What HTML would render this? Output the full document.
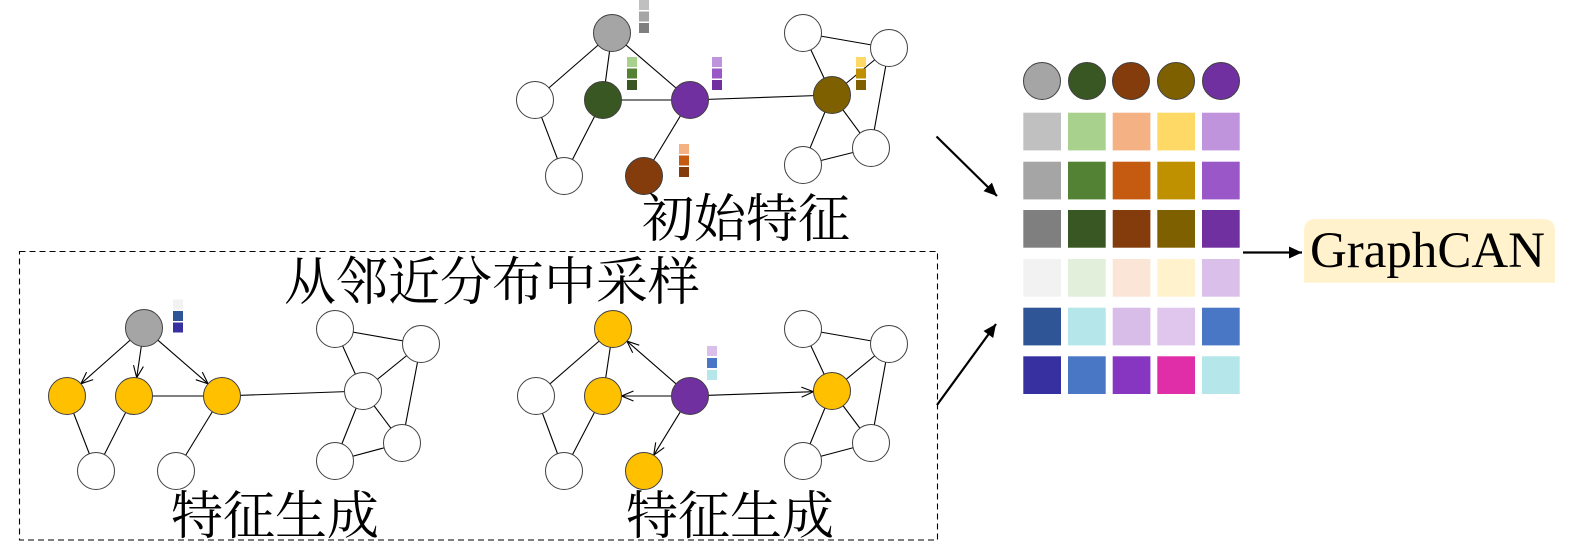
<!DOCTYPE html>
<html><head><meta charset="utf-8"><style>
html,body{margin:0;padding:0;background:#fff;}
svg{display:block;}
.cj{font-family:"Liberation Serif","Noto Serif CJK SC","Noto Sans CJK SC",serif;font-size:52px;fill:#000;}
</style></head><body>
<svg width="1575" height="546" viewBox="0 0 1575 546" xmlns="http://www.w3.org/2000/svg">
<defs>
<marker id="v" markerUnits="userSpaceOnUse" markerWidth="16" markerHeight="14" viewBox="-14 -7 16 14" refX="0" refY="0" orient="auto">
<path d="M-12,-5 L0,0 L-12,5" fill="none" stroke="#000" stroke-width="1.1"/>
</marker>
<marker id="f" markerUnits="userSpaceOnUse" markerWidth="16" markerHeight="14" viewBox="-14 -7 16 14" refX="0" refY="0" orient="auto">
<path d="M-13,-6 L0,0 L-13,6 Z" fill="#000"/>
</marker>
</defs>

<!-- ===== Top graph ===== -->
<g stroke="#000" stroke-width="1.1">
<line x1="612" y1="33" x2="535" y2="100"/>
<line x1="612" y1="33" x2="603" y2="100"/>
<line x1="612" y1="33" x2="690" y2="100"/>
<line x1="535" y1="100" x2="564" y2="176"/>
<line x1="603" y1="100" x2="564" y2="176"/>
<line x1="603" y1="100" x2="690" y2="100"/>
<line x1="690" y1="100" x2="644" y2="176"/>
<line x1="690" y1="100" x2="832" y2="95"/>
<line x1="832" y1="95" x2="803" y2="33"/>
<line x1="832" y1="95" x2="889" y2="48"/>
<line x1="803" y1="33" x2="889" y2="48"/>
<line x1="889" y1="48" x2="871" y2="148"/>
<line x1="832" y1="95" x2="803" y2="165"/>
<line x1="832" y1="95" x2="871" y2="148"/>
<line x1="803" y1="165" x2="871" y2="148"/>
</g>
<g stroke="#404040" stroke-width="1">
<circle cx="612" cy="33" r="18.5" fill="#a5a5a5"/>
<circle cx="535" cy="100" r="18.5" fill="#fff"/>
<circle cx="603" cy="100" r="18.5" fill="#385723"/>
<circle cx="690" cy="100" r="18.5" fill="#7030a0"/>
<circle cx="644" cy="176" r="18.5" fill="#843c0c"/>
<circle cx="564" cy="176" r="18.5" fill="#fff"/>
<circle cx="832" cy="95" r="18.5" fill="#7f6000"/>
<circle cx="803" cy="33" r="18.5" fill="#fff"/>
<circle cx="889" cy="48" r="18.5" fill="#fff"/>
<circle cx="803" cy="165" r="18.5" fill="#fff"/>
<circle cx="871" cy="148" r="18.5" fill="#fff"/>
</g>
<g>
<rect x="639" y="0" width="10" height="10" fill="#c0c0c0"/>
<rect x="639" y="11.5" width="10" height="10" fill="#a5a5a5"/>
<rect x="639" y="23" width="10" height="10" fill="#7f7f7f"/>
<rect x="627" y="57" width="10" height="10" fill="#a9d18e"/>
<rect x="627" y="68.5" width="10" height="10" fill="#548235"/>
<rect x="627" y="80" width="10" height="10" fill="#385723"/>
<rect x="712" y="57" width="10" height="10" fill="#bf94dc"/>
<rect x="712" y="68.5" width="10" height="10" fill="#9a57c8"/>
<rect x="712" y="80" width="10" height="10" fill="#7030a0"/>
<rect x="679" y="144" width="10" height="10" fill="#f4b183"/>
<rect x="679" y="155.5" width="10" height="10" fill="#c55a11"/>
<rect x="679" y="167" width="10" height="10" fill="#843c0c"/>
<rect x="856" y="57" width="10" height="10" fill="#ffd966"/>
<rect x="856" y="68.5" width="10" height="10" fill="#bf9000"/>
<rect x="856" y="80" width="10" height="10" fill="#7f6000"/>
</g>
<text class="cj" x="746" y="237" text-anchor="middle">初始特征</text>

<!-- ===== Dashed box ===== -->
<rect x="19.5" y="251.5" width="918" height="288.5" fill="none" stroke="#000" stroke-width="1.1" stroke-dasharray="6,4"/>
<text class="cj" x="492" y="300" text-anchor="middle">从邻近分布中采样</text>

<!-- ===== Bottom-left graph ===== -->
<g stroke="#000" stroke-width="1.1">
<line x1="67" y1="396" x2="96" y2="471"/>
<line x1="134" y1="396" x2="96" y2="471"/>
<line x1="134" y1="396" x2="222" y2="396"/>
<line x1="222" y1="396" x2="176" y2="471"/>
<line x1="222" y1="396" x2="363" y2="391"/>
<line x1="335" y1="329" x2="421" y2="344"/>
<line x1="335" y1="329" x2="363" y2="391"/>
<line x1="421" y1="344" x2="363" y2="391"/>
<line x1="421" y1="344" x2="402" y2="443"/>
<line x1="363" y1="391" x2="335" y2="461"/>
<line x1="363" y1="391" x2="402" y2="443"/>
<line x1="335" y1="461" x2="402" y2="443"/>
<line x1="130.1" y1="340.2" x2="80.9" y2="383.8" marker-end="url(#v)"/>
<line x1="141.3" y1="346.3" x2="136.7" y2="377.7" marker-end="url(#v)"/>
<line x1="157.9" y1="340.2" x2="208.1" y2="383.8" marker-end="url(#v)"/>
</g>
<g stroke="#404040" stroke-width="1">
<circle cx="144" cy="328" r="18.5" fill="#a5a5a5"/>
<circle cx="67" cy="396" r="18.5" fill="#ffc000"/>
<circle cx="134" cy="396" r="18.5" fill="#ffc000"/>
<circle cx="222" cy="396" r="18.5" fill="#ffc000"/>
<circle cx="96" cy="471" r="18.5" fill="#fff"/>
<circle cx="176" cy="471" r="18.5" fill="#fff"/>
<circle cx="335" cy="329" r="18.5" fill="#fff"/>
<circle cx="421" cy="344" r="18.5" fill="#fff"/>
<circle cx="363" cy="391" r="18.5" fill="#fff"/>
<circle cx="335" cy="461" r="18.5" fill="#fff"/>
<circle cx="402" cy="443" r="18.5" fill="#fff"/>
</g>
<rect x="173" y="299.5" width="10" height="10" fill="#f2f2f2"/>
<rect x="173" y="311" width="10" height="10" fill="#2f5597"/>
<rect x="173" y="322.5" width="10" height="10" fill="#3730a0"/>
<text class="cj" x="275" y="534" text-anchor="middle">特征生成</text>

<!-- ===== Bottom-right graph ===== -->
<g stroke="#000" stroke-width="1.1">
<line x1="613" y1="329" x2="536" y2="396"/>
<line x1="613" y1="329" x2="603" y2="396"/>
<line x1="536" y1="396" x2="564" y2="471"/>
<line x1="603" y1="396" x2="564" y2="471"/>
<line x1="803" y1="329" x2="889" y2="344"/>
<line x1="803" y1="329" x2="832" y2="391"/>
<line x1="889" y1="344" x2="832" y2="391"/>
<line x1="889" y1="344" x2="871" y2="443"/>
<line x1="832" y1="391" x2="803" y2="461"/>
<line x1="832" y1="391" x2="871" y2="443"/>
<line x1="803" y1="461" x2="871" y2="443"/>
<line x1="676.1" y1="383.9" x2="626.9" y2="341.1" marker-end="url(#v)"/>
<line x1="671.5" y1="396" x2="621.5" y2="396" marker-end="url(#v)"/>
<line x1="680.3" y1="411.8" x2="653.7" y2="455.2" marker-end="url(#v)"/>
<line x1="708.5" y1="395.3" x2="813.5" y2="391.7" marker-end="url(#v)"/>
</g>
<g stroke="#404040" stroke-width="1">
<circle cx="613" cy="329" r="18.5" fill="#ffc000"/>
<circle cx="536" cy="396" r="18.5" fill="#fff"/>
<circle cx="603" cy="396" r="18.5" fill="#ffc000"/>
<circle cx="690" cy="396" r="18.5" fill="#7030a0"/>
<circle cx="564" cy="471" r="18.5" fill="#fff"/>
<circle cx="644" cy="471" r="18.5" fill="#ffc000"/>
<circle cx="803" cy="329" r="18.5" fill="#fff"/>
<circle cx="889" cy="344" r="18.5" fill="#fff"/>
<circle cx="832" cy="391" r="18.5" fill="#ffc000"/>
<circle cx="803" cy="461" r="18.5" fill="#fff"/>
<circle cx="871" cy="443" r="18.5" fill="#fff"/>
</g>
<rect x="707" y="346" width="10" height="10" fill="#d9bfea"/>
<rect x="707" y="358" width="10" height="10" fill="#4a76c6"/>
<rect x="707" y="370" width="10" height="10" fill="#b4e6ea"/>
<text class="cj" x="730" y="534" text-anchor="middle">特征生成</text>

<!-- ===== Big arrows ===== -->
<g stroke="#000" stroke-width="2.2">
<line x1="936.5" y1="136.5" x2="997" y2="196" marker-end="url(#f)"/>
<line x1="937" y1="405" x2="996" y2="324" marker-end="url(#f)"/>
<line x1="1243" y1="252.5" x2="1302" y2="252.5" marker-end="url(#f)"/>
</g>

<!-- ===== Matrix ===== -->
<g stroke="#404040" stroke-width="1">
<circle cx="1042" cy="81" r="18.5" fill="#a5a5a5"/>
<circle cx="1087" cy="81" r="18.5" fill="#385723"/>
<circle cx="1131" cy="81" r="18.5" fill="#843c0c"/>
<circle cx="1176" cy="81" r="18.5" fill="#7f6000"/>
<circle cx="1221" cy="81" r="18.5" fill="#7030a0"/>
</g>
<g>
<rect x="1023.3" y="112.7" width="37.7" height="37.7" fill="#c0c0c0"/>
<rect x="1068" y="112.7" width="37.7" height="37.7" fill="#a9d18e"/>
<rect x="1112.7" y="112.7" width="37.7" height="37.7" fill="#f4b183"/>
<rect x="1157.3" y="112.7" width="37.7" height="37.7" fill="#ffd966"/>
<rect x="1202" y="112.7" width="37.7" height="37.7" fill="#bf94dc"/>

<rect x="1023.3" y="161.7" width="37.7" height="37.7" fill="#a5a5a5"/>
<rect x="1068" y="161.7" width="37.7" height="37.7" fill="#548235"/>
<rect x="1112.7" y="161.7" width="37.7" height="37.7" fill="#c55a11"/>
<rect x="1157.3" y="161.7" width="37.7" height="37.7" fill="#bf9000"/>
<rect x="1202" y="161.7" width="37.7" height="37.7" fill="#9a57c8"/>

<rect x="1023.3" y="210" width="37.7" height="37.7" fill="#7f7f7f"/>
<rect x="1068" y="210" width="37.7" height="37.7" fill="#385723"/>
<rect x="1112.7" y="210" width="37.7" height="37.7" fill="#843c0c"/>
<rect x="1157.3" y="210" width="37.7" height="37.7" fill="#7f6000"/>
<rect x="1202" y="210" width="37.7" height="37.7" fill="#7030a0"/>

<rect x="1023.3" y="259" width="37.7" height="37.7" fill="#f2f2f2"/>
<rect x="1068" y="259" width="37.7" height="37.7" fill="#e2efda"/>
<rect x="1112.7" y="259" width="37.7" height="37.7" fill="#fbe5d6"/>
<rect x="1157.3" y="259" width="37.7" height="37.7" fill="#fff2cc"/>
<rect x="1202" y="259" width="37.7" height="37.7" fill="#d9bfea"/>

<rect x="1023.3" y="307.7" width="37.7" height="37.7" fill="#2f5597"/>
<rect x="1068" y="307.7" width="37.7" height="37.7" fill="#b4e6ea"/>
<rect x="1112.7" y="307.7" width="37.7" height="37.7" fill="#d9bde9"/>
<rect x="1157.3" y="307.7" width="37.7" height="37.7" fill="#e0c6ec"/>
<rect x="1202" y="307.7" width="37.7" height="37.7" fill="#4a76c6"/>

<rect x="1023.3" y="356.3" width="37.7" height="37.7" fill="#3730a0"/>
<rect x="1068" y="356.3" width="37.7" height="37.7" fill="#4a76c6"/>
<rect x="1112.7" y="356.3" width="37.7" height="37.7" fill="#8636c0"/>
<rect x="1157.3" y="356.3" width="37.7" height="37.7" fill="#e02ea8"/>
<rect x="1202" y="356.3" width="37.7" height="37.7" fill="#b4e6ea"/>
</g>

<!-- ===== GraphCAN ===== -->
<path d="M1304,282.7 L1304,231 Q1304,219 1316,219 L1543,219 Q1555,219 1555,231 L1555,282.7 Z" fill="#fff2cc"/>
<text x="1310" y="267" textLength="235" lengthAdjust="spacingAndGlyphs" style="font-family:'Liberation Serif',serif;font-size:51px;fill:#000;">GraphCAN</text>
</svg>
</body></html>
